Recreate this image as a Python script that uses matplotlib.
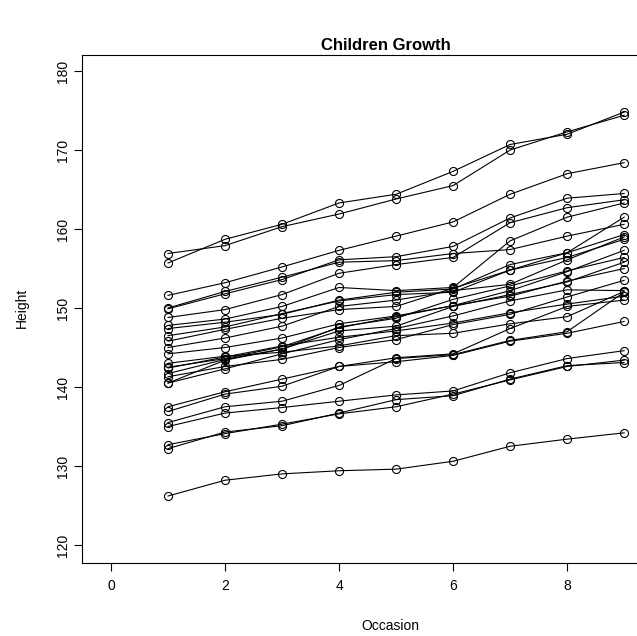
import matplotlib
matplotlib.use("Agg")
import matplotlib.pyplot as plt
import numpy as np

occasions = [1, 2, 3, 4, 5, 6, 7, 8, 9]

s01 = [140.5, 143.4, 144.8, 147.1, 147.7, 150.2, 151.7, 153.3, 155.8]
s02 = [136.9, 139.1, 140.1, 142.6, 143.2, 144.0, 145.8, 146.8, 148.3]
s03 = [150.0, 152.1, 153.9, 155.8, 156.0, 156.9, 157.4, 159.1, 160.6]
s04 = [155.7, 158.7, 160.6, 163.3, 164.4, 167.3, 170.7, 172.0, 174.8]
s05 = [145.8, 147.3, 148.7, 149.8, 150.2, 152.5, 154.8, 156.4, 158.7]
s06 = [142.4, 143.8, 145.2, 146.3, 147.1, 148.1, 149.4, 150.5, 151.5]
s07 = [141.3, 142.6, 143.5, 145.0, 146.0, 147.9, 149.2, 151.4, 153.5]
s08 = [141.7, 143.5, 144.8, 147.6, 148.7, 151.1, 152.8, 154.7, 156.4]
s09 = [132.7, 134.1, 135.3, 136.6, 137.5, 139.1, 140.9, 142.6, 143.4]
s10 = [126.2, 128.2, 129.0, 129.4, 129.6, 130.6, 132.5, 133.4, 134.2]
s11 = [142.5, 143.6, 145.1, 147.5, 148.9, 150.3, 152.2, 154.6, 157.3]
s12 = [151.6, 153.2, 155.2, 157.3, 159.1, 160.9, 164.4, 167.0, 168.4]
s13 = [149.9, 151.8, 153.6, 156.1, 156.5, 157.8, 161.4, 163.9, 164.5]
s14 = [156.9, 157.9, 160.3, 161.9, 163.8, 165.5, 170.0, 172.3, 174.4]
s15 = [148.8, 149.8, 151.7, 154.4, 155.5, 156.4, 160.8, 162.7, 163.7]
s16 = [147.8, 148.6, 150.2, 152.6, 152.2, 152.6, 158.5, 161.5, 163.3]
s17 = [147.4, 148.2, 149.2, 151.0, 152.0, 152.4, 155.5, 157.0, 159.3]
s18 = [146.5, 147.6, 149.3, 150.9, 151.7, 152.0, 154.8, 157.0, 161.5]
s19 = [145.0, 146.2, 147.7, 150.2, 151.0, 152.2, 153.0, 156.1, 159.0]
s20 = [144.2, 145.0, 146.2, 148.0, 149.0, 150.3, 151.5, 153.4, 155.0]
s21 = [143.0, 143.9, 144.4, 145.2, 146.5, 146.8, 148.0, 148.9, 152.1]
s22 = [140.5, 142.3, 144.2, 146.0, 147.4, 149.0, 150.9, 152.3, 152.2]
s23 = [137.5, 139.4, 141.0, 142.6, 143.7, 144.2, 147.4, 150.2, 151.0]
s24 = [135.5, 137.5, 138.2, 140.2, 143.6, 144.1, 145.9, 147.0, 152.0]
s25 = [135.0, 136.7, 137.4, 138.2, 139.0, 139.5, 141.8, 143.6, 144.6]
s26 = [132.2, 134.3, 135.1, 136.7, 138.4, 138.9, 141.0, 142.7, 143.1]

subjects = [s01, s02, s03, s04, s05, s06, s07, s08, s09, s10, s11, s12, s13,
            s14, s15, s16, s17, s18, s19, s20, s21, s22, s23, s24, s25, s26]

x_ticks = [0, 2, 4, 6, 8]
y_ticks = [120, 130, 140, 150, 160, 170, 180]

plt.rcParams['font.family'] = ['Liberation Sans', 'DejaVu Sans']

W, H = 637, 636
fig = plt.figure(figsize=(W / 100, H / 100), dpi=100)
left, right, top, bottom = 82, 688, 55, 563
ax = fig.add_axes([left / W, 1 - bottom / H, (right - left) / W, (bottom - top) / H])

for s in subjects:
    ax.plot(occasions, s, color='black', linewidth=0.8, marker='o',
            markersize=5.8, markerfacecolor='none', markeredgecolor='black',
            markeredgewidth=0.8)

ax.set_xlim(-0.509, 10.12)
ax.set_ylim(117.72, 182.03)
ax.set_xticks(x_ticks)
ax.set_yticks(y_ticks)
ax.set_xticklabels([str(t) for t in x_ticks], fontsize=10)
ax.set_yticklabels([str(t) for t in y_ticks], fontsize=10, rotation=90, va='center')
ax.tick_params(direction='out', length=5.5, width=0.8)
ax.tick_params(axis='x', pad=6)
ax.tick_params(axis='y', pad=3)
for sp in ax.spines.values():
    sp.set_linewidth(0.8)

fig.text(386 / W, 1 - 46 / H, 'Children Growth', ha='center', va='center',
         fontsize=12, fontweight='bold')
fig.text(390 / W, 1 - 626 / H, 'Occasion', ha='center', va='center', fontsize=10)
fig.text(22 / W, 1 - 308 / H, 'Height', ha='center', va='center', fontsize=10,
         rotation=90)

fig.savefig('out.png', dpi=100)
